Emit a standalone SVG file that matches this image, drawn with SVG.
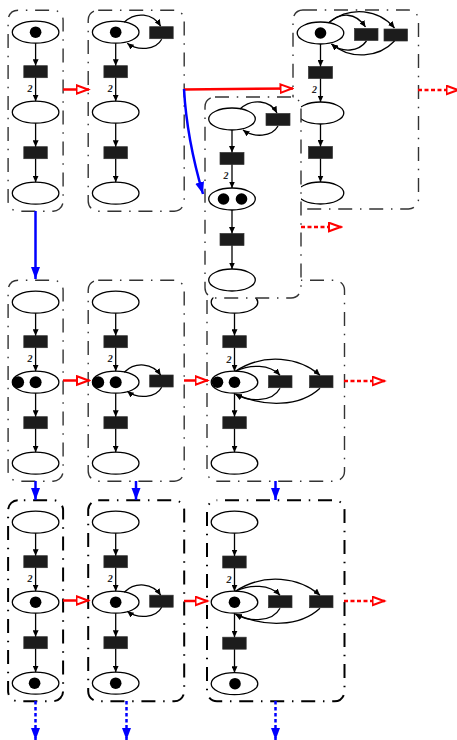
<svg xmlns="http://www.w3.org/2000/svg" width="457" height="740" viewBox="0 0 457 740">
<style>
.f{fill:#fff;stroke:#333;stroke-width:1.4;stroke-dasharray:14 7.750 1.500 7.750}
.f2{fill:none;stroke:#000;stroke-width:2;stroke-dasharray:14 7.750 1.500 7.750}
.p{fill:#fff;stroke:#000;stroke-width:1.3}
.t{fill:#1c1c1c;stroke:#333;stroke-width:.7}
.k{fill:#000}
.e{fill:none;stroke:#000;stroke-width:1.3;marker-end:url(#a)}
.n{font:italic bold 10px "Liberation Serif",serif;fill:#222;text-anchor:middle}
.r{fill:none;stroke:#f00;stroke-width:2.500;marker-end:url(#rh)}
.rd{fill:none;stroke:#f00;stroke-width:2.500;stroke-dasharray:4 2.500;marker-end:url(#rh)}
.b{fill:none;stroke:#00f;stroke-width:2.500;marker-end:url(#bh)}
.bd{fill:none;stroke:#00f;stroke-width:2.500;stroke-dasharray:3.500 2.500;marker-end:url(#bh)}
</style>
<defs>
<marker id="a" markerUnits="userSpaceOnUse" markerWidth="7" markerHeight="6" refX="6.500" refY="3" orient="auto"><path d="M0,0L6.500,3L0,6z" fill="#000"/></marker>
<marker id="rh" markerUnits="userSpaceOnUse" markerWidth="15" markerHeight="12" refX="13.500" refY="5.500" orient="auto"><path d="M1,1.200L12.500,5.500L1,9.800z" fill="#fff" stroke="#f00" stroke-width="2"/></marker>
<marker id="bh" markerUnits="userSpaceOnUse" markerWidth="12" markerHeight="10" refX="12" refY="4.500" orient="auto"><path d="M0,0L12,4.500L0,9z" fill="#00f"/></marker>
</defs>

<g id="net-1-3" transform="translate(320.500,33)">
<rect class="f" x="-27.500" y="-23" width="125.500" height="199" rx="10"/>
<g id="n13p1"><ellipse class="p" rx="23.300" ry="11"/><circle class="k" r="5.800"/></g>
<g id="n13p2"><ellipse class="p" cy="80" rx="23.300" ry="11"/></g>
<g id="n13p3"><ellipse class="p" cy="160" rx="23.300" ry="11"/></g>
<g id="n13t1"><rect class="t" x="-12" y="33.500" width="24" height="12"/></g>
<g id="n13t2"><rect class="t" x="-12" y="113.500" width="24" height="12"/></g>
<g id="n13t3"><rect class="t" x="34" y="-4.500" width="23.500" height="12"/></g>
<g id="n13t4"><rect class="t" x="63.500" y="-4" width="23.500" height="12"/></g>
<g id="n13e"><path class="e" d="M0,11V33.500"/><path class="e" d="M0,45.500V69"/><path class="e" d="M0,91V113.500"/><path class="e" d="M0,125.500V149"/>
<path class="e" d="M8,-10C20,-21 35,-21 45,-6"/><path class="e" d="M9,-11C30,-27 58,-24 74,-5"/><path class="e" d="M46,8C38,19 22,20 11,11"/><path class="e" d="M74,8C58,25 30,27 11,11"/></g>
<text class="n" x="-6" y="59.500">2</text>
</g>

<g id="net-2-3" transform="translate(234.500,302.200)">
<rect class="f" x="-27.500" y="-22" width="137.500" height="201" rx="10"/>
<g id="n23p1"><ellipse class="p" rx="23.300" ry="11"/></g>
<g id="n23p2"><ellipse class="p" cy="80" rx="23.300" ry="11"/><circle class="k" cx="-17" cy="80" r="5.800"/><circle class="k" cy="80" r="5.800"/></g>
<g id="n23p3"><ellipse class="p" cy="161" rx="23.300" ry="11"/></g>
<g id="n23t1"><rect class="t" x="-11.700" y="33.500" width="23.500" height="12"/></g>
<g id="n23t2"><rect class="t" x="-11.700" y="114.500" width="23.500" height="12"/></g>
<g id="n23t3"><rect class="t" x="34" y="73.500" width="23.500" height="12"/></g>
<g id="n23t4"><rect class="t" x="75" y="73.500" width="23.500" height="12"/></g>
<g id="n23e"><path class="e" d="M0,11V33.500"/><path class="e" d="M0,45.500V69"/><path class="e" d="M0,91V114.500"/><path class="e" d="M0,126.500V150"/>
<path class="e" d="M1,69C16,62 35,62 45.500,73"/><path class="e" d="M1,69C30,50 65,55 85.500,73"/><path class="e" d="M45.500,86C38,100 15,100 1,92"/><path class="e" d="M85.500,86C65,105 30,105 1,92"/></g>
<text class="n" x="-5.500" y="60.500">2</text>
</g>

<g id="net-1-f" transform="translate(232,119)">
<rect class="f" x="-27" y="-22" width="96" height="201" rx="10"/>
<g id="nfp1"><ellipse class="p" rx="23.300" ry="11"/></g>
<g id="nfp2"><ellipse class="p" cy="80" rx="23.300" ry="11"/><circle class="k" cx="-8.500" cy="80" r="5.800"/><circle class="k" cx="9.500" cy="80" r="5.800"/></g>
<g id="nfp3"><ellipse class="p" cy="161" rx="23.300" ry="11"/></g>
<g id="nft1"><rect class="t" x="-12" y="33.500" width="24" height="12"/></g>
<g id="nft2"><rect class="t" x="-12" y="114.500" width="24" height="12"/></g>
<g id="nft3"><rect class="t" x="34" y="-5.500" width="24" height="12"/></g>
<g id="nfe"><path class="e" d="M0,11V33.500"/><path class="e" d="M0,45.500V69"/><path class="e" d="M0,91V114.500"/><path class="e" d="M0,126.500V150"/>
<path class="e" d="M8,-10C20,-21 38,-19 45,-6"/><path class="e" d="M46,7C40,18 22,19 11,11"/></g>
<text class="n" x="-6" y="59.500">2</text>
</g>

<g id="net-1-1" transform="translate(35.600,32.200)">
<rect class="f" style="stroke-dashoffset:14" x="-27.500" y="-22" width="55" height="201" rx="10"/>
<g id="n11p1"><ellipse class="p" rx="23.300" ry="11"/><circle class="k" r="5.800"/></g>
<g id="n11p2"><ellipse class="p" cy="80" rx="23.300" ry="11"/></g>
<g id="n11p3"><ellipse class="p" cy="161" rx="23.300" ry="11"/></g>
<g id="n11t1"><rect class="t" x="-11.800" y="33.500" width="23.500" height="12"/></g>
<g id="n11t2"><rect class="t" x="-11.800" y="114.500" width="23.500" height="12"/></g>
<g id="n11e"><path class="e" d="M0,11V33.500"/><path class="e" d="M0,45.500V69"/><path class="e" d="M0,91V114.500"/><path class="e" d="M0,126.500V150"/></g>
<text class="n" x="-5.500" y="59.500">2</text>
</g>

<g id="net-1-2" transform="translate(115.700,32.200)">
<rect class="f" x="-27.500" y="-22" width="96" height="201" rx="10"/>
<g id="n12p1"><ellipse class="p" rx="23.300" ry="11"/><circle class="k" r="5.800"/></g>
<g id="n12p2"><ellipse class="p" cy="80" rx="23.300" ry="11"/></g>
<g id="n12p3"><ellipse class="p" cy="161" rx="23.300" ry="11"/></g>
<g id="n12t1"><rect class="t" x="-11.800" y="33.500" width="23.500" height="12"/></g>
<g id="n12t2"><rect class="t" x="-11.800" y="114.500" width="23.500" height="12"/></g>
<g id="n12t3"><rect class="t" x="34" y="-5.500" width="23.500" height="12"/></g>
<g id="n12e"><path class="e" d="M0,11V33.500"/><path class="e" d="M0,45.500V69"/><path class="e" d="M0,91V114.500"/><path class="e" d="M0,126.500V150"/>
<path class="e" d="M8.500,-10C20,-21 37,-19 45,-6"/><path class="e" d="M46,7C40,18 22,19 11.500,11"/></g>
<text class="n" x="-5.500" y="59.500">2</text>
</g>

<g id="net-2-1" transform="translate(35.600,302.200)">
<rect class="f" style="stroke-dashoffset:14" x="-27.500" y="-22" width="55" height="201" rx="10"/>
<g id="n21p1"><ellipse class="p" rx="23.300" ry="11"/></g>
<g id="n21p2"><ellipse class="p" cy="80" rx="23.300" ry="11"/><circle class="k" cx="-17.500" cy="80" r="6"/><circle class="k" cy="80" r="6"/></g>
<g id="n21p3"><ellipse class="p" cy="161" rx="23.300" ry="11"/></g>
<g id="n21t1"><rect class="t" x="-11.800" y="33.500" width="23.500" height="12"/></g>
<g id="n21t2"><rect class="t" x="-11.800" y="114.500" width="23.500" height="12"/></g>
<g id="n21e"><path class="e" d="M0,11V33.500"/><path class="e" d="M0,45.500V69"/><path class="e" d="M0,91V114.500"/><path class="e" d="M0,126.500V150"/></g>
<text class="n" x="-5.500" y="59.500">2</text>
</g>

<g id="net-2-2" transform="translate(115.700,302.200)">
<rect class="f" x="-27.500" y="-22" width="96" height="201" rx="10"/>
<g id="n22p1"><ellipse class="p" rx="23.300" ry="11"/></g>
<g id="n22p2"><ellipse class="p" cy="80" rx="23.300" ry="11"/><circle class="k" cx="-17.500" cy="80" r="6"/><circle class="k" cy="80" r="6"/></g>
<g id="n22p3"><ellipse class="p" cy="161" rx="23.300" ry="11"/></g>
<g id="n22t1"><rect class="t" x="-11.800" y="33.500" width="23.500" height="12"/></g>
<g id="n22t2"><rect class="t" x="-11.800" y="114.500" width="23.500" height="12"/></g>
<g id="n22t3"><rect class="t" x="34" y="72.800" width="23.500" height="12"/></g>
<g id="n22e"><path class="e" d="M0,11V33.500"/><path class="e" d="M0,45.500V69"/><path class="e" d="M0,91V114.500"/><path class="e" d="M0,126.500V150"/>
<path class="e" d="M8.500,70C20,59 37,61 45,73"/><path class="e" d="M46,85C40,96 22,97 11.500,89"/></g>
<text class="n" x="-5.500" y="59.500">2</text>
</g>

<g id="net-3-1" transform="translate(35.600,522.200)">
<rect class="f2" style="stroke-dashoffset:16" x="-27.500" y="-22" width="55" height="201" rx="10"/>
<g id="n31p1"><ellipse class="p" rx="23.300" ry="11"/></g>
<g id="n31p2"><ellipse class="p" cy="80" rx="23.300" ry="11"/><circle class="k" cy="80" r="5.800"/></g>
<g id="n31p3"><ellipse class="p" cy="161" rx="23.300" ry="11"/><circle class="k" cx="-1" cy="161" r="5.800"/></g>
<g id="n31t1"><rect class="t" x="-11.800" y="33.500" width="23.500" height="12"/></g>
<g id="n31t2"><rect class="t" x="-11.800" y="114.500" width="23.500" height="12"/></g>
<g id="n31e"><path class="e" d="M0,11V33.500"/><path class="e" d="M0,45.500V69"/><path class="e" d="M0,91V114.500"/><path class="e" d="M0,126.500V150"/></g>
<text class="n" x="-5.500" y="59.500">2</text>
</g>

<g id="net-3-2" transform="translate(115.700,522.200)">
<rect class="f2" style="stroke-dashoffset:3" x="-27.500" y="-22" width="96" height="201" rx="10"/>
<g id="n32p1"><ellipse class="p" rx="23.300" ry="11"/></g>
<g id="n32p2"><ellipse class="p" cy="80" rx="23.300" ry="11"/><circle class="k" cy="80" r="5.800"/></g>
<g id="n32p3"><ellipse class="p" cy="161" rx="23.300" ry="11"/><circle class="k" cy="161" r="5.800"/></g>
<g id="n32t1"><rect class="t" x="-11.800" y="33.500" width="23.500" height="12"/></g>
<g id="n32t2"><rect class="t" x="-11.800" y="114.500" width="23.500" height="12"/></g>
<g id="n32t3"><rect class="t" x="34" y="73" width="23.500" height="12"/></g>
<g id="n32e"><path class="e" d="M0,11V33.500"/><path class="e" d="M0,45.500V69"/><path class="e" d="M0,91V114.500"/><path class="e" d="M0,126.500V150"/>
<path class="e" d="M8.500,70C20,59 37,61 45,73"/><path class="e" d="M46,85C40,96 22,97 11.500,89"/></g>
<text class="n" x="-5.500" y="59.500">2</text>
</g>

<g id="net-3-3" transform="translate(234.500,522.200)">
<rect class="f2" style="stroke-dashoffset:23" x="-27.500" y="-22" width="137.500" height="201" rx="10"/>
<g id="n33p1"><ellipse class="p" rx="23.300" ry="11"/></g>
<g id="n33p2"><ellipse class="p" cy="80" rx="23.300" ry="11"/><circle class="k" cy="80" r="5.800"/></g>
<g id="n33p3"><ellipse class="p" cy="161.500" rx="23.300" ry="11"/><circle class="k" cx="0.500" cy="161.500" r="5.800"/></g>
<g id="n33t1"><rect class="t" x="-11.800" y="33.800" width="23.500" height="12"/></g>
<g id="n33t2"><rect class="t" x="-11.800" y="115" width="23.500" height="12"/></g>
<g id="n33t3"><rect class="t" x="34" y="73.500" width="23.500" height="12"/></g>
<g id="n33t4"><rect class="t" x="75" y="73.500" width="23.500" height="12"/></g>
<g id="n33e"><path class="e" d="M0,11V33.800"/><path class="e" d="M0,45.800V69"/><path class="e" d="M0,91V115"/><path class="e" d="M0,127V150.500"/>
<path class="e" d="M1,69C16,62 35,62 45.500,73"/><path class="e" d="M1,69C30,50 65,55 85.500,73"/><path class="e" d="M45.500,86C38,100 15,100 1,92"/><path class="e" d="M85.500,86C65,105 30,105 1,92"/></g>
<text class="n" x="-5.500" y="60.500">2</text>
</g>

<g id="connectors">
<path class="r" d="M63,89.500H89"/>
<path class="r" d="M184,89.500L293,88.500"/>
<path class="rd" d="M418,90H459"/>
<path class="rd" d="M301,227H341.500"/>
<path class="r" d="M63,380.500H89.500"/>
<path class="r" d="M184,380.500H208"/>
<path class="rd" d="M344,381H385"/>
<path class="r" d="M63,600.500H89"/>
<path class="r" d="M184,601H208"/>
<path class="rd" d="M344,601H385"/>
<path class="b" d="M184,89C186,125 193,160 203,194"/>
<path class="b" d="M35.500,211V279"/>
<path class="b" d="M35.500,481V500"/>
<path class="b" d="M136,481V500"/>
<path class="b" d="M275.500,481V500"/>
<path class="bd" d="M35.500,701V740"/>
<path class="bd" d="M126.500,701V740"/>
<path class="bd" d="M275.500,701V740"/>
</g>
</svg>
